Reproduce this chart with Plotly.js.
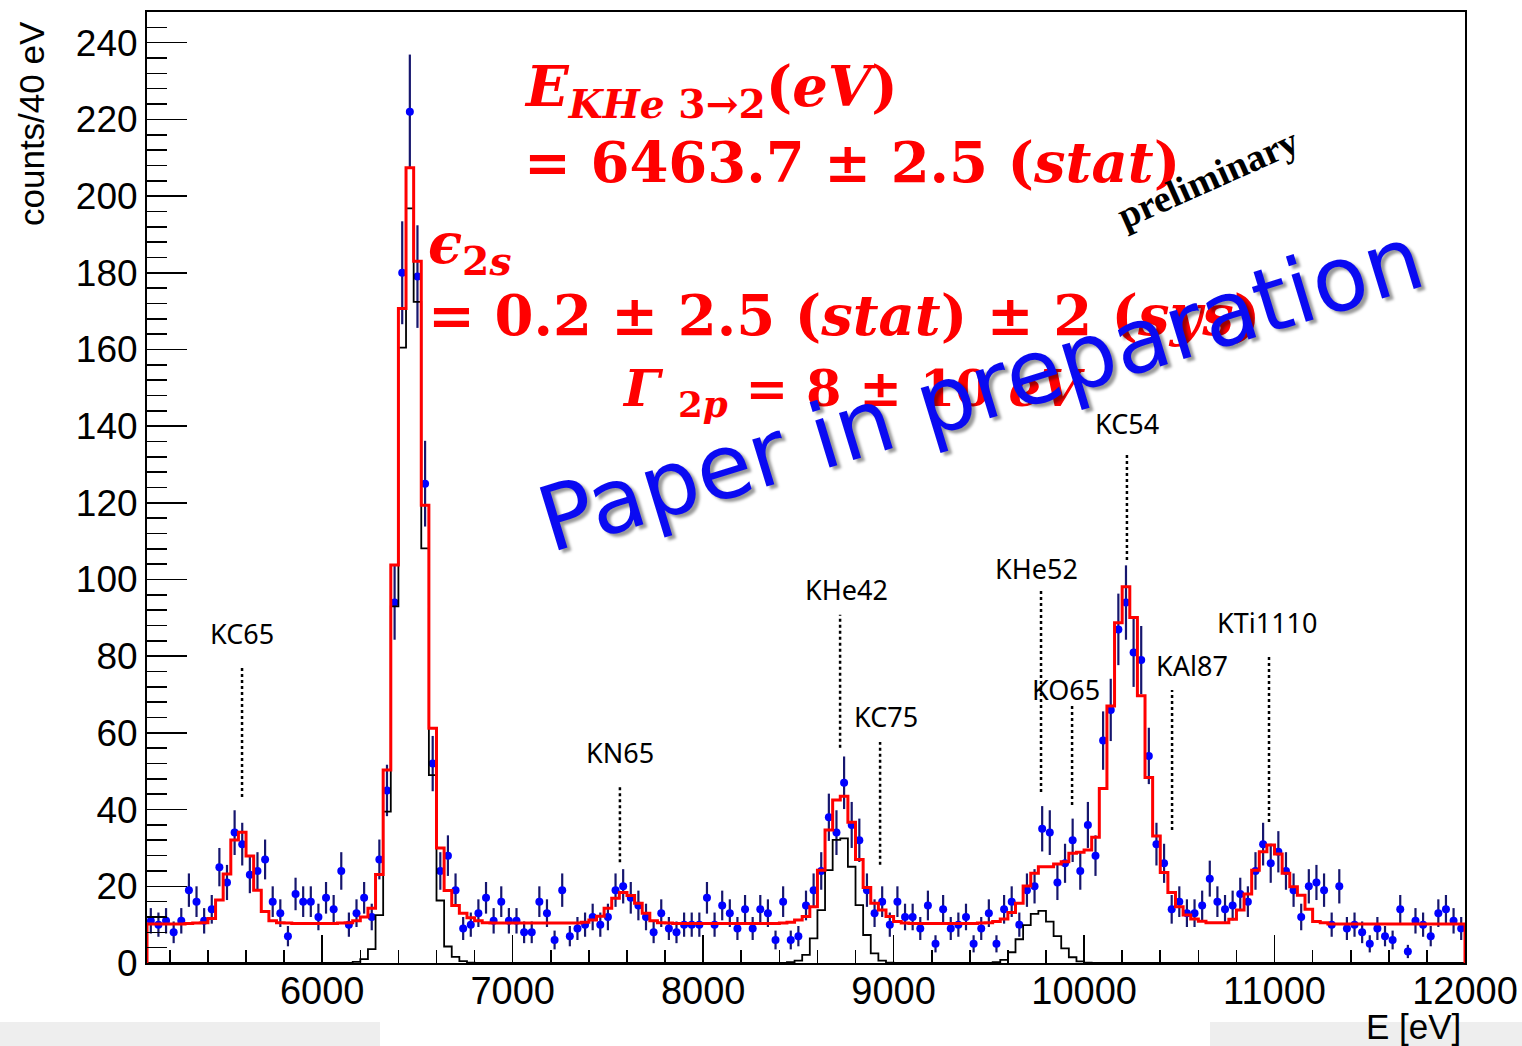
<!DOCTYPE html>
<html>
<head>
<meta charset="utf-8">
<script src="https://cdn.plot.ly/plotly-3.0.1.min.js"></script>
<style>
  html, body { margin: 0; padding: 0; background: #ffffff; }
  #chart { width: 1522px; height: 1046px; }
</style>
</head>
<body>
<div id="chart"></div>
<script>
// ---- Histogram binning (40 eV bins) ----
const binLow = 5080;
const binWidth = 40;

// ---- Measured counts per bin (bin centres 5100 ... 11980 eV) ----
const counts = [
  11,10,11,8,11,19,16,11,14,25,      // 5100-5460
  21,34,31,23,24,27,16,13,7,18,      // 5500-5860
  16,16,12,17,14,24,10,13,17,12,     // 5900-6260
  27,45,94,180,222,179,125,52,24,28, // 6300-6660
  19,9,10,13,17,11,16,11,11,8,       // 6700-7060
  8,16,13,6,19,7,9,10,12,10,         // 7100-7460
  12,19,20,17,15,12,8,13,9,8,        // 7500-7860
  10,10,10,17,10,15,13,9,14,9,       // 7900-8260
  14,13,6,16,6,7,15,19,24,38,        // 8300-8660
  34,47,36,32,19,13,16,10,16,12,     // 8700-9060
  12,9,15,5,14,9,10,12,5,9,          // 9100-9460
  13,5,14,16,10,19,20,35,34,21,      // 9500-9860
  26,32,24,36,28,58,66,87,94,81,     // 9900-10260
  79,54,31,26,14,16,13,13,15,22,     // 10300-10660
  16,14,15,18,16,24,31,26,29,24,     // 10700-11060
  19,12,20,21,19,10,20,9,10,8,       // 11100-11460
  5,9,7,6,14,3,11,10,7,13,           // 11500-11860
  14,11,9                            // 11900-11980
];

// ---- Total fit (red histogram) ----
const fitTotal = [
  10.2,10.2,10.2,10.2,10.2,10.3,10.4,10.5,11.6,16.4,
  23.2,32.1,34.1,27.9,19.0,13.4,11.0,10.5,10.4,10.3,
  10.3,10.3,10.3,10.3,10.3,10.4,10.5,11.0,12.0,14.3,
  23.1,50.3,103.8,170.7,207.4,183.0,119.4,61.2,30.0,18.9,
  15.0,13.0,11.8,11.0,10.5,10.4,10.4,10.4,10.4,10.4,
  10.4,10.4,10.4,10.4,10.4,10.4,10.4,10.6,11.2,12.2,
  14.3,16.9,18.4,17.6,15.6,13.0,11.0,10.5,10.4,10.3,
  10.3,10.3,10.3,10.3,10.3,10.3,10.3,10.3,10.3,10.3,
  10.3,10.3,10.3,10.4,10.6,11.2,12.1,14.7,24.2,34.7,
  42.5,43.5,36.7,27.0,19.7,15.6,13.8,12.1,10.8,10.4,
  10.3,10.3,10.3,10.3,10.3,10.3,10.3,10.3,10.3,10.4,
  10.5,10.8,11.5,13.2,15.6,20.1,23.4,25.1,25.1,25.8,
  26.4,28.6,28.9,29.5,32.8,45.5,67.0,88.7,98.1,90.1,
  69.7,48.4,33.1,23.6,18.4,14.7,12.5,11.5,10.9,10.5,
  10.5,10.5,11.4,13.8,18.0,24.2,29.0,30.8,28.4,23.4,
  19.9,17.7,14.0,10.8,10.5,10.2,10.2,10.2,10.2,10.2,
  10.2,10.2,10.2,10.2,10.2,10.2,10.2,10.2,10.2,10.2,
  10.2,10.2,10.2
];

// ---- Kaonic helium components (black histogram) ----
const heliumLines = [
  0,0,0,0,0,0,0,0,0,0,
  0,0,0,0,0,0,0,0,0,0,
  0,0,0,0,0,0,0,0.3,1.0,3.6,
  12.5,39.5,93.0,160.5,196.8,172.4,108.1,49.0,16.3,4.3,
  1.6,0.5,0.1,0,0,0,0,0,0,0,
  0,0,0,0,0,0,0,0,0,0,
  0,0,0,0,0,0,0,0,0,0,
  0,0,0,0,0,0,0,0,0,0,
  0,0,0,0,0.2,0.6,2.1,6.4,13.8,24.2,
  32.1,32.5,25.1,15.1,7.3,2.5,0.6,0.1,0,0,
  0,0,0,0,0,0,0,0,0,0,
  0,0.2,0.8,2.8,6.2,9.9,12.8,13.6,10.8,7.0,
  3.8,1.5,0.4,0.1,0,0,0,0,0,0,
  0,0,0,0,0,0,0,0,0,0,
  0,0,0,0,0,0,0,0,0,0,
  0,0,0,0,0,0,0,0,0,0,
  0,0,0,0,0,0,0,0,0,0,
  0,0,0
];

// ---- Transition labels and their energies (eV) ----
const lineNames    = ["KC65","KN65","KHe42","KC75","KHe52","KO65","KC54","KAl87","KTi1110"];
const lineEnergies = [5579, 7563, 8719, 8929, 9774, 9937, 10225, 10462, 10971];

// ---------------------------------------------------------------
const nBins = counts.length;
const xMax = binLow + nBins * binWidth;
const centres = counts.map((_, k) => binLow + binWidth * (k + 0.5));

function stepXY(vals) {
  const xs = [binLow], ys = [0];
  for (let k = 0; k < vals.length; k++) { xs.push(binLow + k * binWidth); ys.push(vals[k]); }
  xs.push(xMax); ys.push(vals[vals.length - 1]);
  xs.push(xMax); ys.push(0);
  return {xs, ys};
}
const redStep = stepXY(fitTotal);
const blkStep = stepXY(heliumLines);

const traces = [
  {
    x: centres, y: counts, type: 'scatter', mode: 'markers',
    marker: {color: '#0000ff', size: 8},
    error_y: {type: 'sqrt', visible: true, color: '#16166e', thickness: 2.2, width: 0},
    hoverinfo: 'x+y'
  },
  {
    x: blkStep.xs, y: blkStep.ys, type: 'scatter', mode: 'lines',
    line: {shape: 'hv', color: '#000000', width: 1.8}, hoverinfo: 'skip'
  },
  {
    x: redStep.xs, y: redStep.ys, type: 'scatter', mode: 'lines',
    line: {shape: 'hv', color: '#ff0000', width: 3}, hoverinfo: 'skip'
  }
];

// ---- pixel helpers for paper-positioned text ----
const L = 147, R = 1465, T = 12, B = 963;
const px = v => (v - L) / (R - L);
const py = v => (B - v) / (B - T);

// marker lines: label y-centre (value), dotted line from/to (value)
const labelY   = [85.8, 55.0, 97.5, 64.2, 103.0, 71.2, 140.8, 77.5, 88.9];
const labelDX  = [0, 0, 6, 6, -5, -6, 0, 20, -2];
const dotTop   = [77.7, 46.4, 90.8, 57.6, 97.3, 67.8, 133.0, 71.2, 80.3];
const dotBot   = [43.3, 26.3, 56.1, 25.6, 44.6, 41.2, 105.1, 34.7, 36.8];

const shapes = [];
const annotations = [];
lineNames.forEach((name, i) => {
  shapes.push({type: 'line', xref: 'x', yref: 'y',
    x0: lineEnergies[i], x1: lineEnergies[i], y0: dotBot[i], y1: dotTop[i],
    line: {color: '#000', width: 2.5, dash: 'dot'}});
  annotations.push({xref: 'x', yref: 'y', x: lineEnergies[i], y: labelY[i],
    xanchor: 'center', yanchor: 'middle',
    xshift: labelDX[i], text: name, showarrow: false,
    font: {family: 'Noto Sans, Open Sans, sans-serif', size: 27, color: '#000'}});
});

// grey strip at the bottom (slide background)
shapes.push({type: 'rect', xref: 'paper', yref: 'paper', layer: 'below',
  x0: px(0), x1: px(380), y0: py(1046), y1: py(1022), line: {width: 0}, fillcolor: '#eeeeee'});
shapes.push({type: 'rect', xref: 'paper', yref: 'paper', layer: 'below',
  x0: px(1210), x1: px(1522), y0: py(1046), y1: py(1022), line: {width: 0}, fillcolor: '#eeeeee'});

function redText(text, x, y, size) {
  annotations.push({xref: 'paper', yref: 'paper', x: px(x), y: py(y), xanchor: 'left', yanchor: 'middle',
    text: text, showarrow: false,
    font: {family: 'DejaVu Serif, serif', size: size, color: '#ff0000', weight: 'bold'}});
}
redText('<i>E</i><sub><i>KHe</i> 3→2</sub>(<i>eV</i>)', 522, 90, 56);
redText('= 6463.7 ± 2.5 (<i>stat</i>)', 522, 162, 56);
redText('<i>ϵ</i><sub>2<i>s</i></sub>', 426, 247, 56);
redText('= 0.2 ± 2.5 (<i>stat</i>) ± 2 (<i>sys</i>)', 426, 315, 56);
redText('<i>Γ</i> <sub>2<i>p</i></sub> = 8 ± 10 <i>eV</i>', 620, 392, 51);

annotations.push({xref: 'paper', yref: 'paper', x: px(1208), y: py(178), xanchor: 'center', yanchor: 'middle',
  text: 'preliminary', textangle: -24, showarrow: false,
  font: {family: 'Liberation Serif, serif', size: 38, color: '#000', weight: 'bold'}});

annotations.push({xref: 'paper', yref: 'paper', x: px(980), y: py(388), xanchor: 'center', yanchor: 'middle',
  text: 'Paper in preparation', textangle: -17, showarrow: false,
  font: {family: 'DejaVu Sans, Verdana, sans-serif', size: 90, color: '#0a0af2',
         shadow: '3px 4px 3px rgba(0,0,0,0.4)'}});

// axis titles (ROOT style: right/top aligned)
annotations.push({xref: 'paper', yref: 'paper', x: px(31), y: py(124), xanchor: 'center', yanchor: 'middle',
  text: 'counts/40 eV', textangle: -90, showarrow: false,
  font: {family: 'Liberation Sans, Arial, sans-serif', size: 35, color: '#000'}});
annotations.push({xref: 'paper', yref: 'paper', x: px(1463), y: py(1026), xanchor: 'right', yanchor: 'middle',
  text: 'E [eV]', showarrow: false,
  font: {family: 'Liberation Sans, Arial, sans-serif', size: 35, color: '#000'}});

const layout = {
  width: 1522, height: 1046,
  margin: {l: L, r: 1522 - R, t: T, b: 1046 - B, pad: 0},
  paper_bgcolor: '#ffffff', plot_bgcolor: '#ffffff',
  showlegend: false,
  xaxis: {
    range: [binLow, xMax], showgrid: false, zeroline: false,
    showline: true, linecolor: '#000', linewidth: 2, mirror: true,
    ticks: 'inside', tick0: 0, dtick: 1000, ticklen: 28, tickwidth: 1.6, tickcolor: '#000',
    tickformat: 'd', ticklabelstandoff: -7,
    minor: {ticks: 'inside', dtick: 200, tick0: 0, ticklen: 13, tickwidth: 1.6, tickcolor: '#000'},
    tickfont: {family: 'Liberation Sans, Arial, sans-serif', size: 38, color: '#000'}
  },
  yaxis: {
    range: [0, 248], showgrid: false, zeroline: false,
    showline: true, linecolor: '#000', linewidth: 2, mirror: true,
    ticks: 'inside', tick0: 0, dtick: 20, ticklen: 40, tickwidth: 1.6, tickcolor: '#000',
    minor: {ticks: 'inside', dtick: 4, tick0: 0, ticklen: 20, tickwidth: 1.6, tickcolor: '#000'},
    tickfont: {family: 'Liberation Sans, Arial, sans-serif', size: 37, color: '#000'}
  },
  shapes: shapes,
  annotations: annotations
};

Plotly.newPlot('chart', traces, layout, {displayModeBar: false, staticPlot: true});
</script>
</body>
</html>
